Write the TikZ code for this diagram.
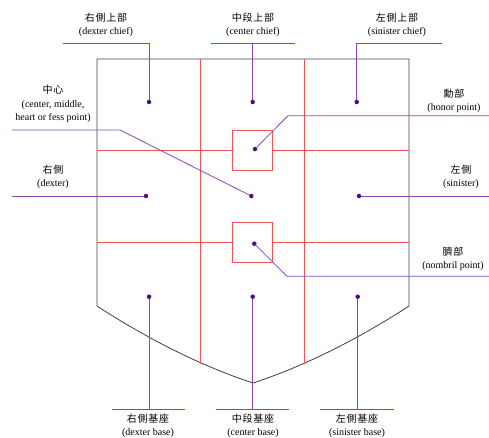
\documentclass[tikz,border=0pt]{standalone}
\usepackage{fontspec}
\setmainfont{Liberation Serif}
\newfontfamily\cjk[LetterSpace=8]{Noto Sans CJK TC}
\usepackage{xcolor}
\usepackage{tikz}
\usetikzlibrary{positioning}

\definecolor{leadpurple}{RGB}{135,70,185}
\definecolor{dotpurple}{RGB}{80,10,130}
\definecolor{gridred}{RGB}{240,85,85}

\begin{document}
\begin{tikzpicture}[x=1pt, y=-1pt,
	pt/.style={circle, fill=dotpurple, inner sep=0pt, minimum size=4.5pt},
	lead/.style={draw=leadpurple, line width=0.8pt},
	lbl/.style={align=center, font=\fontsize{10}{13.5}\selectfont, inner sep=1pt},
	grid/.style={draw=gridred, line width=0.8pt}]
	\useasboundingbox (0,0) rectangle (489,437);
	
	% Shield
	\draw[line width=0.8pt, draw=black!75] (97,59) -- (97,306)
		.. controls (140,334) and (195,364) .. (253,383)
		.. controls (311,364) and (366,334) .. (409,306) -- (409,59) -- cycle;
	
	% Grid
	\draw[grid] (200.7,59) -- (200.7,364);
	\draw[grid] (304.7,59) -- (304.7,364);
	\node[grid, minimum size=40pt, inner sep=0pt] (hsq) at (252.7,150.5) {};
	\node[grid, minimum size=40pt, inner sep=0pt] (nsq) at (252.7,242) {};
	\draw[grid] (97,150.5) -- (hsq.west);
	\draw[grid] (hsq.east) -- (409,150.5);
	\draw[grid] (97,242) -- (nsq.west);
	\draw[grid] (nsq.east) -- (409,242);
	
	% Points
	\node[pt] (dc) at (149,102) {};
	\node[pt] (cc) at (252.7,102) {};
	\node[pt] (sc) at (356.7,102) {};
	\node[pt] (hp) at (255,149) {};
	\node[pt] (dx) at (146,196) {};
	\node[pt] (fp) at (251.3,196) {};
	\node[pt] (sn) at (359,196) {};
	\node[pt] (np) at (254.3,243.7) {};
	\node[pt] (db) at (149,296.7) {};
	\node[pt] (cb) at (252.7,296.7) {};
	\node[pt] (sb) at (357.7,296.7) {};
	
	% Labels
	\node[lbl] (dcl) at (106,25) {{\cjk 右側上部}\\(dexter chief)};
	\node[lbl] (ccl) at (253,25) {{\cjk 中段上部}\\(center chief)};
	\node[lbl] (scl) at (397,25) {{\cjk 左側上部}\\(sinister chief)};
	\node[lbl] (fpl) at (53,104) {{\cjk 中心}\\(center, middle,\\heart or fess point)};
	\node[lbl] (hpl) at (454,101) {{\cjk 勳部}\\(honor point)};
	\node[lbl] (dxl) at (53,177) {{\cjk 右側}\\(dexter)};
	\node[lbl] (snl) at (461,177) {{\cjk 左側}\\(sinister)};
	\node[lbl] (npl) at (453,259) {{\cjk 臍部}\\(nombril point)};
	\node[lbl] (dbl) at (148,426) {{\cjk 右側基座}\\(dexter base)};
	\node[lbl] (cbl) at (253,426) {{\cjk 中段基座}\\(center base)};
	\node[lbl] (sbl) at (357,426) {{\cjk 左側基座}\\(sinister base)};
	
	% Leaders
	\coordinate (dcs) at (63,43);
	\coordinate (ccw) at (211,43);
	\coordinate (cce) at (295,43);
	\coordinate (scs) at (442,43);
	\coordinate (fps) at (12,130);
	\coordinate (hps) at (489,115.7);
	\coordinate (dxs) at (12,196);
	\coordinate (sns) at (489,196);
	\coordinate (nps) at (489,276.3);
	\draw[lead] (dcs) -| (dc);
	\draw[lead] (ccw) -- (cce);
	\draw[lead] (cc) -- (cc |- ccw);
	\draw[lead] (scs) -| (sc);
	\draw[lead] (fps) -- ++(108,0) -- (fp);
	\draw[lead] (hps) -- ++(-201,0) -- (hp);
	\draw[lead] (dxs) -- (dx);
	\draw[lead] (sn) -- (sns);
	\draw[lead] (nps) -- ++(-202,0) -- (np);
	
	% Base leaders
	\coordinate (dbw) at (112,409.3);
	\coordinate (dbe) at (185,409.3);
	\coordinate (cbw) at (216,409.3);
	\coordinate (cbe) at (289,409.3);
	\coordinate (sbw) at (320,409.3);
	\coordinate (sbe) at (394,409.3);
	\draw[lead] (dbw) -- (dbe);
	\draw[lead] (cbw) -- (cbe);
	\draw[lead] (sbw) -- (sbe);
	\draw[lead] (db) -- (db |- dbw);
	\draw[lead] (cb) -- (cb |- cbw);
	\draw[lead] (sb) -- (sb |- sbw);
\end{tikzpicture}
\end{document}
